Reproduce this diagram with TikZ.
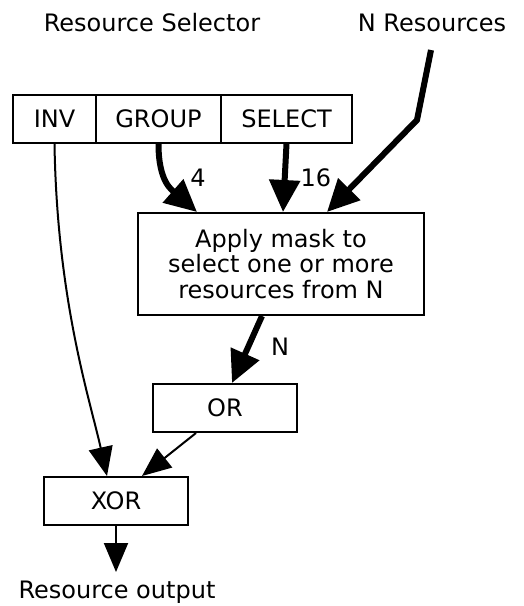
\documentclass[tikz,border=0pt]{standalone}
\usepackage{fontspec}
\setmainfont{DejaVu Sans}
\usetikzlibrary{arrows.meta}
\tikzset{
  box/.style={draw, line width=2pt, inner sep=0pt, align=center, font=\fontsize{24}{25.5}\selectfont},
  lbl/.style={inner sep=0pt, font=\fontsize{24}{25.5}\selectfont},
  thick arrow/.style={line width=6pt, -{Triangle[length=32pt,width=30pt]}},
  thin arrow/.style={line width=2pt, -{Triangle[length=29pt,width=24pt]}}
}
\begin{document}
\begin{tikzpicture}[x=1pt,y=-1pt]
\useasboundingbox (0,0) rectangle (523,606);
% titles
\node[lbl] (tsel) at (152,23) {Resource Selector};
\node[lbl] (tres) at (432,23) {N Resources};
% selector register
\node[box, minimum width=83pt, minimum height=48pt] (inv) at (54.5,119) {INV};
\node[box, minimum width=125pt, minimum height=48pt] (group) at (158.5,119) {GROUP};
\node[box, minimum width=131pt, minimum height=48pt] (select) at (286.5,119) {SELECT};
% mask box
\node[box, minimum width=286pt, minimum height=102pt] (mask) at (281,264) {Apply mask to\\select one or more\\resources from N};
\node[box, minimum width=144pt, minimum height=48pt] (or) at (225,408) {OR};
\node[box, minimum width=144pt, minimum height=48pt] (xor) at (116,501) {XOR};
\node[lbl] (out) at (117,592) {Resource output};
% coordinates
\coordinate (nstart) at (431,50);
\coordinate (nbend) at (417,120);
\coordinate (outend) at (116,572);
% connectors
\draw[thick arrow] (group.south) .. controls (158.5,182) and (172,190) .. ([xshift=60pt]mask.north west);
\draw[thick arrow] (select.south) -- ([xshift=146pt]mask.north west);
\draw[thick arrow] (nstart) -- (nbend) -- ([xshift=190pt]mask.north west);
\draw[thin arrow] (inv.south) .. controls (57,300) and (90,400) .. ([xshift=64pt]xor.north west);
\draw[thick arrow] ([xshift=125pt]mask.south west) -- ([xshift=80pt]or.north west);
\draw[thin arrow] ([xshift=44pt]or.south west) -- ([xshift=99pt]xor.north west);
\draw[thin arrow] (xor.south) -- (outend);
% labels
\node[lbl] (l4) at (198,178) {4};
\node[lbl] (l16) at (316,178) {16};
\node[lbl] (lN) at (280,347) {N};
\end{tikzpicture}
\end{document}
